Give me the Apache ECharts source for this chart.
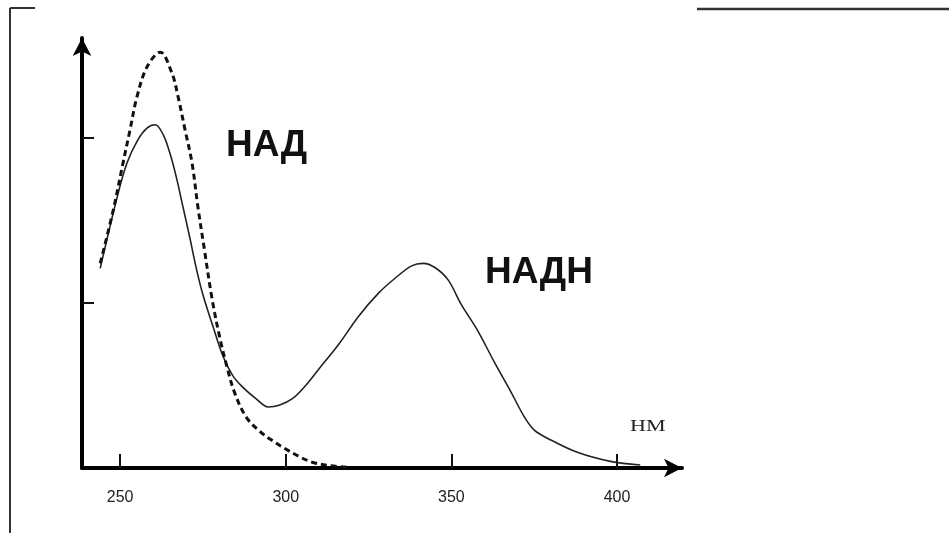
<!DOCTYPE html>
<html>
<head>
<meta charset="utf-8">
<script src="https://cdn.jsdelivr.net/npm/echarts@6/dist/echarts.min.js"></script>
<style>
  html, body { margin: 0; padding: 0; background: #fff; }
  #chart { width: 949px; height: 533px; }
</style>
</head>
<body>
<div id="chart"></div>
<script>
// Wavelength ticks (nm)
const xTicks = [250, 300, 350, 400];
const yTicks = [1, 2];

// НАДН (solid line)
const nadhWavelengths = [244.0, 249.1, 252.1, 255.4, 258.1, 260.6, 263.0, 265.0, 267.0, 269.0, 271.0, 273.0, 275.0, 278.0, 281.0, 284.0, 287.0, 291.0, 294.7, 298.0, 302.0, 306.0, 310.0, 316.0, 322.0, 328.0, 333.0, 338.0, 341.5, 345.0, 349.0, 353.0, 358.0, 363.0, 368.0, 372.0, 375.0, 380.0, 388.0, 398.0, 407.0];
const nadhValues      = [1.21, 1.64, 1.85, 1.99, 2.06, 2.08, 2.02, 1.91, 1.76, 1.58, 1.40, 1.21, 1.05, 0.86, 0.68, 0.56, 0.49, 0.42, 0.37, 0.38, 0.42, 0.50, 0.60, 0.75, 0.92, 1.06, 1.15, 1.225, 1.24, 1.215, 1.14, 0.99, 0.83, 0.64, 0.46, 0.31, 0.23, 0.17, 0.095, 0.04, 0.018];

// НАД (dashed line)
const nadWavelengths = [244.0, 247.9, 250.9, 253.0, 255.1, 258.1, 262.1, 265.7, 267.5, 269.6, 271.7, 273.5, 275.4, 277.8, 280.2, 282.3, 284.5, 288.0, 292.0, 296.0, 300.0, 304.0, 308.0, 313.0, 318.5];
const nadValues      = [1.24, 1.56, 1.85, 2.05, 2.25, 2.43, 2.52, 2.39, 2.25, 2.05, 1.85, 1.58, 1.33, 1.02, 0.78, 0.61, 0.46, 0.31, 0.225, 0.165, 0.115, 0.07, 0.035, 0.015, 0.005];

const zip = (xs, ys) => xs.map((x, i) => [x, ys[i]]);

const chart = echarts.init(document.getElementById('chart'), null, { renderer: 'canvas' });

chart.setOption({
  animation: false,
  backgroundColor: '#ffffff',
  grid: { left: 82, top: 38, right: 267, bottom: 65 },
  xAxis: {
    type: 'value',
    min: 238.5,
    max: 419.6,
    splitLine: { show: false },
    axisLine: {
      show: true, onZero: false,
      lineStyle: { color: '#000', width: 4 },
      symbol: ['none', 'arrow'],
      symbolSize: [14, 18]
    },
    axisTick: {
      show: true, inside: true, length: 14,
      lineStyle: { color: '#111', width: 2 },
      customValues: xTicks
    },
    axisLabel: {
      show: true, customValues: xTicks,
      fontFamily: 'Liberation Sans', fontSize: 16, color: '#222', margin: 22
    }
  },
  yAxis: {
    type: 'value',
    min: 0,
    max: 2.606,
    splitLine: { show: false },
    axisLine: {
      show: true, onZero: false,
      lineStyle: { color: '#000', width: 4 },
      symbol: ['none', 'arrow'],
      symbolSize: [14, 18]
    },
    axisTick: {
      show: true, inside: true, length: 12,
      lineStyle: { color: '#111', width: 2 },
      customValues: yTicks
    },
    axisLabel: { show: false }
  },
  series: [
    {
      name: 'НАДН',
      type: 'line',
      data: zip(nadhWavelengths, nadhValues),
      smooth: 0.35,
      showSymbol: false,
      lineStyle: { color: '#222', width: 1.6, type: 'solid' },
      z: 3
    },
    {
      name: 'НАД',
      type: 'line',
      data: zip(nadWavelengths, nadValues),
      smooth: 0.35,
      showSymbol: false,
      lineStyle: { color: '#111', width: 3, type: [6, 4] },
      z: 4
    }
  ],
  graphic: [
    { type: 'line', shape: { x1: 10, y1: 8, x2: 10, y2: 533 }, style: { stroke: '#333', lineWidth: 2 } },
    { type: 'line', shape: { x1: 10, y1: 8, x2: 35, y2: 8 }, style: { stroke: '#333', lineWidth: 2 } },
    { type: 'line', shape: { x1: 697, y1: 9, x2: 949, y2: 9 }, style: { stroke: '#333', lineWidth: 2.5 } },
    { type: 'text', left: 226, top: 127, style: { text: 'НАД', fontFamily: 'Liberation Sans', fontWeight: 'bold', fontSize: 37, fill: '#111' } },
    { type: 'text', left: 485, top: 254, style: { text: 'НАДН', fontFamily: 'Liberation Sans', fontWeight: 'bold', fontSize: 37, fill: '#111' } },
    { type: 'text', x: 630, y: 418, scaleX: 1.3, style: { text: 'НМ', fontFamily: 'Liberation Serif', fontSize: 17, fill: '#222' } }
  ]
});
</script>
</body>
</html>
